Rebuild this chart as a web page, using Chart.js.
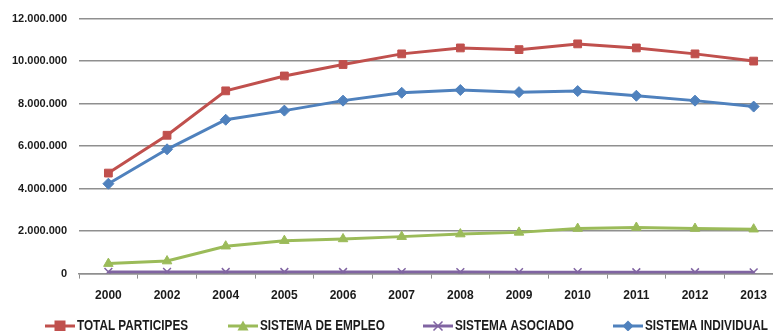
<!DOCTYPE html>
<html>
<head>
<meta charset="utf-8">
<script src="https://cdn.jsdelivr.net/npm/chart.js@4.4.1/dist/chart.umd.min.js"></script>
<style>
    html, body { margin: 0; padding: 0; background: #ffffff; overflow: hidden; }
    #wrap { width: 790px; height: 331px; }
</style>
</head>
<body>
<div id="wrap"><canvas id="chart" width="790" height="331"></canvas></div>
<script>
// Years on the x axis
const years = ['2000', '2002', '2004', '2005', '2006', '2007', '2008', '2009', '2010', '2011', '2012', '2013'];

// Participants per system
const totalParticipes = [4730000, 6510000, 8600000, 9300000, 9840000, 10340000, 10620000, 10540000, 10810000, 10620000, 10340000, 10000000];
const sistemaEmpleo = [470000, 590000, 1290000, 1550000, 1630000, 1740000, 1860000, 1940000, 2120000, 2170000, 2120000, 2090000];
const sistemaAsociado = [80000, 80000, 75000, 75000, 75000, 72000, 70000, 68000, 66000, 64000, 62000, 60000];
const sistemaIndividual = [4230000, 5850000, 7240000, 7670000, 8140000, 8510000, 8640000, 8540000, 8590000, 8370000, 8140000, 7860000];

// Y axis ticks
const yTicks = [0, 2000000, 4000000, 6000000, 8000000, 10000000, 12000000];

const textColor = '#1b1b1b';
const gridColor = '#8f8f8f';
const sansFont = "'Liberation Sans', Arial, sans-serif";

// Format number with dots as thousand separators
function formatNumber(v) {
    return String(Math.round(v)).replace(/\B(?=(\d{3})+(?!\d))/g, '.');
}

// Draw the small line + marker used in the legend
function drawLegendMarker(ctx, x, y, color, style) {
    ctx.save();
    ctx.strokeStyle = color;
    ctx.fillStyle = color;
    ctx.lineWidth = 3;
    ctx.beginPath();
    ctx.moveTo(x, y);
    ctx.lineTo(x + 30, y);
    ctx.stroke();
    const cx = x + 15;
    ctx.beginPath();
    if (style === 'rect') {
        ctx.fillRect(cx - 5.5, y - 5.5, 11, 11);
    } else if (style === 'triangle') {
        ctx.moveTo(cx, y - 5.5);
        ctx.lineTo(cx + 5.5, y + 4.5);
        ctx.lineTo(cx - 5.5, y + 4.5);
        ctx.closePath();
        ctx.fill();
    } else if (style === 'rectRot') {
        ctx.moveTo(cx, y - 5.5);
        ctx.lineTo(cx + 5.5, y);
        ctx.lineTo(cx, y + 5.5);
        ctx.lineTo(cx - 5.5, y);
        ctx.closePath();
        ctx.fill();
    } else {
        ctx.lineWidth = 1.5;
        ctx.moveTo(cx - 4.5, y - 4.5);
        ctx.lineTo(cx + 4.5, y + 4.5);
        ctx.moveTo(cx + 4.5, y - 4.5);
        ctx.lineTo(cx - 4.5, y + 4.5);
        ctx.stroke();
    }
    ctx.restore();
}

// Legend along the bottom, condensed text like the original
const legendSlots = [45, 228, 423, 613];
const bottomLegend = {
    id: 'bottomLegend',
    afterDraw(chart) {
        const ctx = chart.ctx;
        const squeeze = 0.84;
        const y = 326;
        ctx.save();
        ctx.font = "bold 14px " + sansFont;
        ctx.textBaseline = 'middle';
        ctx.fillStyle = textColor;
        chart.data.datasets.forEach((ds, i) => {
            const x = legendSlots[i];
            drawLegendMarker(ctx, x, y, ds.borderColor, ds.pointStyle);
            ctx.save();
            ctx.translate(x + 32, y);
            ctx.scale(squeeze, 1);
            ctx.fillText(ds.label, 0, 0);
            ctx.restore();
        });
        ctx.restore();
    }
};

function makeDataset(label, data, color, style) {
    return {
        label: label,
        data: data,
        borderColor: color,
        backgroundColor: color,
        borderWidth: 3,
        pointStyle: style,
        pointRadius: 5.5,
        pointHoverRadius: 5.5,
        pointBorderWidth: style === 'crossRot' ? 1.5 : 1,
        tension: 0
    };
}

const ctx = document.getElementById('chart').getContext('2d');

new Chart(ctx, {
    type: 'line',
    data: {
        labels: years,
        datasets: [
            makeDataset('TOTAL PARTICIPES', totalParticipes, '#c0504d', 'rect'),
            makeDataset('SISTEMA DE EMPLEO', sistemaEmpleo, '#9bbb59', 'triangle'),
            makeDataset('SISTEMA ASOCIADO', sistemaAsociado, '#8064a2', 'crossRot'),
            makeDataset('SISTEMA INDIVIDUAL', sistemaIndividual, '#4f81bd', 'rectRot')
        ]
    },
    options: {
        responsive: false,
        animation: false,
        layout: {
            padding: { left: 0, right: 6, top: 11, bottom: 18 }
        },
        plugins: {
            tooltip: { enabled: false },
            legend: { display: false }
        },
        scales: {
            x: {
                offset: true,
                grid: {
                    offset: true,
                    drawOnChartArea: false,
                    color: gridColor,
                    tickLength: 5
                },
                border: { color: gridColor, width: 1.5 },
                ticks: {
                    color: textColor,
                    padding: 10,
                    maxRotation: 0,
                    font: { family: sansFont, size: 12, weight: 'bold' }
                }
            },
            y: {
                min: 0,
                max: 12000000,
                afterBuildTicks: axis => {
                    axis.ticks = yTicks.map(v => ({ value: v }));
                },
                grid: {
                    color: gridColor,
                    lineWidth: 1.5,
                    drawTicks: false
                },
                border: { display: false },
                ticks: {
                    color: textColor,
                    padding: 12,
                    font: { family: sansFont, size: 11, weight: 'bold' },
                    callback: v => formatNumber(v)
                }
            }
        }
    },
    plugins: [bottomLegend]
});
</script>
</body>
</html>
